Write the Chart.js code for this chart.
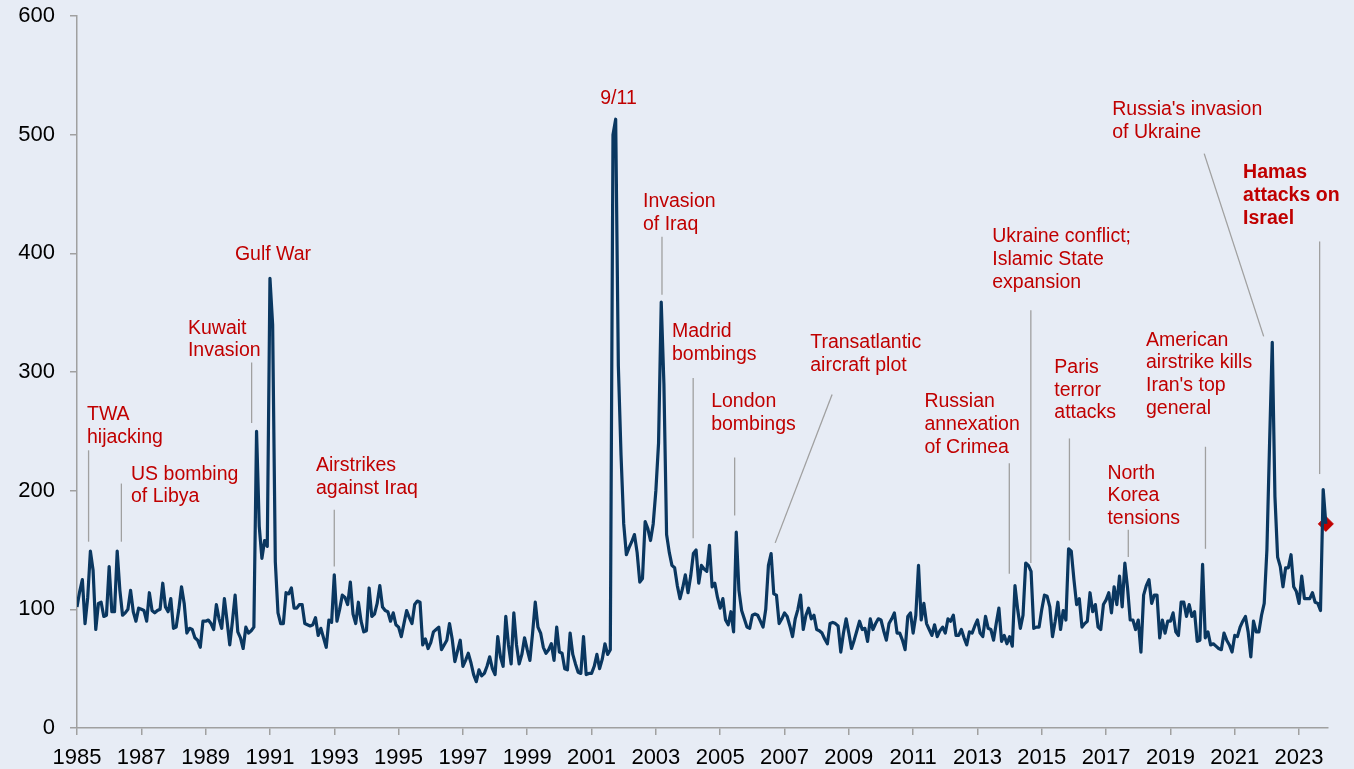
<!DOCTYPE html>
<html>
<head>
<meta charset="utf-8">
<title>Geopolitical risk index</title>
<script src="https://cdn.jsdelivr.net/npm/chart.js@4.4.0/dist/chart.umd.min.js"></script>
<style>
  html, body { margin: 0; padding: 0; background: #e7ecf5; }
  #wrap { width: 1354px; height: 769px; }
  canvas { display: block; background: #e7ecf5; }
</style>
</head>
<body>
<div id="wrap"><canvas id="gpr" width="1354" height="769"></canvas></div>
<script>
// monthly index values, Jan 1985 onwards
const startYear = 1985;

const gpr1985to1994 = [
  102, 115, 125, 88, 110, 149, 133, 83, 105, 106, 94, 95,     // 1985
  136, 98, 98, 149, 116, 95, 97, 100, 116, 98, 90, 101,       // 1986
  100, 99, 90, 114, 99, 97, 99, 100, 122, 102, 98, 109,       // 1987
  84, 85, 100, 119, 105, 80, 84, 83, 76, 74, 68, 90,          // 1988
  90, 91, 88, 83, 104, 92, 84, 109, 90, 70, 90, 112,          // 1989
  81, 76, 67, 85, 80, 82, 85, 250, 170, 143, 158, 153,        // 1990
  379, 340, 140, 97, 88, 88, 114, 113, 118, 101, 101, 104,    // 1991
  104, 88, 87, 86, 87, 93, 78, 84, 76, 68, 91, 89,            // 1992
  129, 90, 100, 112, 110, 104, 123, 96, 88, 106, 90, 81,      // 1993
  82, 118, 94, 96, 105, 120, 102, 99, 98, 90, 97, 87          // 1994
];

const gpr1995to2004 = [
  85, 77, 88, 99, 93, 88, 104, 107, 106, 70, 75, 67,          // 1995
  72, 81, 83, 85, 66, 70, 74, 88, 75, 56, 65, 74,             // 1996
  52, 57, 63, 55, 45, 39, 49, 44, 46, 52, 60, 50,             // 1997
  45, 77, 60, 52, 94, 70, 54, 97, 70, 54, 62, 76,             // 1998
  66, 57, 80, 106, 85, 80, 68, 63, 66, 71, 57, 85,            // 1999
  64, 63, 50, 49, 80, 62, 54, 47, 46, 77, 45, 46,             // 2000
  46, 52, 62, 50, 58, 71, 62, 66, 500, 513, 305, 230,         // 2001
  172, 146, 152, 157, 163, 148, 123, 126, 174, 168, 158, 172, // 2002
  200, 240, 359, 290, 163, 148, 137, 135, 120, 109, 118, 129, // 2003
  114, 128, 147, 150, 122, 137, 134, 132, 154, 119, 122, 110  // 2004
];

const gpr2005to2014 = [
  101, 109, 91, 87, 98, 81, 165, 116, 99, 92, 85, 84,         // 2005
  95, 96, 95, 90, 85, 100, 137, 147, 113, 112, 88, 92,        // 2006
  97, 94, 86, 77, 92, 100, 112, 83, 95, 101, 92, 95,          // 2007
  83, 82, 80, 75, 71, 88, 89, 88, 86, 64, 80, 92,             // 2008
  80, 67, 74, 82, 90, 83, 84, 73, 92, 83, 88, 92,             // 2009
  91, 82, 74, 88, 92, 97, 80, 80, 74, 66, 94, 97,             // 2010
  80, 95, 137, 91, 105, 88, 83, 78, 87, 77, 82, 85,           // 2011
  80, 92, 90, 95, 78, 78, 83, 76, 70, 81, 80, 86,             // 2012
  91, 80, 77, 94, 84, 83, 74, 88, 101, 73, 78, 71,            // 2013
  77, 69, 120, 100, 84, 95, 139, 137, 132, 84, 85, 85         // 2014
];

const gpr2015to2023 = [
  100, 112, 111, 102, 77, 90, 106, 83, 99, 91, 151, 149,      // 2015
  125, 104, 109, 85, 88, 90, 114, 98, 104, 85, 83, 104,       // 2016
  108, 114, 97, 119, 104, 128, 102, 139, 118, 91, 91, 83,     // 2017
  91, 64, 112, 120, 125, 105, 112, 112, 76, 91, 80, 90,       // 2018
  90, 97, 81, 78, 106, 106, 94, 104, 94, 98, 73, 74,          // 2019
  138, 76, 81, 70, 71, 69, 67, 66, 80, 74, 70, 64,            // 2020
  78, 77, 85, 90, 94, 81, 60, 90, 81, 81, 95, 105,            // 2021
  150, 240, 325, 195, 144, 136, 119, 135, 135, 146, 119, 115, // 2022
  105, 128, 109, 109, 109, 114, 106, 105, 99, 201, 172        // 2023 (to Nov)
];

const xTickYears = [1985, 1987, 1989, 1991, 1993, 1995, 1997, 1999, 2001, 2003,
                    2005, 2007, 2009, 2011, 2013, 2015, 2017, 2019, 2021, 2023];
const yTickValues = [0, 100, 200, 300, 400, 500, 600];

// event labels, anchored in data space (year, index value)
const events = [
  { lines: ["TWA", "hijacking"], x: 1985.31, y: 265 },
  { lines: ["US bombing", "of Libya"], x: 1986.68, y: 215 },
  { lines: ["Kuwait", "Invasion"], x: 1988.45, y: 338 },
  { lines: ["Gulf War"], x: 1989.91, y: 400 },
  { lines: ["Airstrikes", "against Iraq"], x: 1992.43, y: 222 },
  { lines: ["9/11"], x: 2001.27, y: 532 },
  { lines: ["Invasion", "of Iraq"], x: 2002.6, y: 445 },
  { lines: ["Madrid", "bombings"], x: 2003.5, y: 335 },
  { lines: ["London", "bombings"], x: 2004.72, y: 276 },
  { lines: ["Transatlantic", "aircraft plot"], x: 2007.8, y: 326 },
  { lines: ["Russian", "annexation", "of Crimea"], x: 2011.35, y: 276 },
  { lines: ["Ukraine conflict;", "Islamic State", "expansion"], x: 2013.46, y: 415 },
  { lines: ["Paris", "terror", "attacks"], x: 2015.39, y: 305 },
  { lines: ["North", "Korea", "tensions"], x: 2017.04, y: 216 },
  { lines: ["American", "airstrike kills", "Iran's top", "general"], x: 2018.24, y: 328 },
  { lines: ["Russia's invasion", "of Ukraine"], x: 2017.19, y: 522 },
  { lines: ["Hamas", "attacks on", "Israel"], x: 2021.26, y: 469, bold: true }
];

const leaders = [
  [1985.36, 234, 1985.36, 157],
  [1986.38, 206, 1986.38, 157],
  [1990.43, 308, 1990.43, 257],
  [1993.0, 184, 1993.0, 136],
  [2003.19, 414, 2003.19, 365],
  [2004.16, 295, 2004.16, 160],
  [2005.45, 228, 2005.45, 179],
  [2008.48, 281, 2006.71, 156],
  [2013.99, 223, 2013.99, 130],
  [2014.66, 352, 2014.66, 139],
  [2015.86, 244, 2015.86, 158],
  [2017.69, 167, 2017.69, 144],
  [2020.09, 237, 2020.09, 151],
  [2020.05, 484, 2021.9, 330],
  [2023.64, 410, 2023.64, 214]
];

const FONT = 'Arial, "Liberation Sans", sans-serif';

const values = [].concat(gpr1985to1994, gpr1995to2004, gpr2005to2014, gpr2015to2023);
const points = values.map((v, i) => ({ x: startYear + i / 12, y: v }));
const latest = points[points.length - 1];

// draws the red event labels and their grey pointer lines
const eventLabels = {
  id: "eventLabels",
  afterDatasetsDraw(chart) {
    const { ctx, scales } = chart;
    const xs = scales.x, ys = scales.y;
    ctx.save();
    ctx.strokeStyle = "#a0a0a0";
    ctx.lineWidth = 1.3;
    leaders.forEach(l => {
      ctx.beginPath();
      ctx.moveTo(xs.getPixelForValue(l[0]), ys.getPixelForValue(l[1]));
      ctx.lineTo(xs.getPixelForValue(l[2]), ys.getPixelForValue(l[3]));
      ctx.stroke();
    });
    ctx.fillStyle = "#c00000";
    ctx.textAlign = "left";
    ctx.textBaseline = "middle";
    events.forEach(e => {
      ctx.font = (e.bold ? "bold " : "") + "19.5px " + FONT;
      const px = xs.getPixelForValue(e.x);
      const py = ys.getPixelForValue(e.y) + 1.5;
      e.lines.forEach((t, i) => ctx.fillText(t, px, py + i * 22.7));
    });
    ctx.restore();
  }
};

new Chart(document.getElementById("gpr"), {
  type: "line",
  data: {
    datasets: [
      {
        data: points,
        borderColor: "#0a3760",
        borderWidth: 3.2,
        borderJoinStyle: "round",
        pointRadius: 0,
        tension: 0
      },
      {
        data: [latest],
        showLine: false,
        clip: false,
        pointStyle: "rectRot",
        pointRadius: 7.5,
        pointBackgroundColor: "#c00000",
        pointBorderColor: "#c00000"
      }
    ]
  },
  options: {
    responsive: false,
    animation: false,
    layout: { padding: { top: 16, right: 26, bottom: 0, left: 0 } },
    plugins: {
      legend: { display: false },
      tooltip: { enabled: false }
    },
    scales: {
      x: {
        type: "linear",
        min: 1985,
        max: 2023.9,
        afterBuildTicks: s => { s.ticks = xTickYears.map(v => ({ value: v })); },
        afterFit: s => { s.paddingLeft = 0; s.paddingRight = 0; s.height = 41; },
        ticks: {
          callback: v => String(v),
          color: "#000",
          font: { size: 22, family: FONT },
          padding: 10,
          maxRotation: 0,
          autoSkip: false
        },
        grid: { drawOnChartArea: false, tickLength: 7, color: "#a0a0a0", lineWidth: 1.5 },
        border: { color: "#a0a0a0", width: 1.5 }
      },
      y: {
        min: 0,
        max: 600,
        afterBuildTicks: s => { s.ticks = yTickValues.map(v => ({ value: v })); },
        afterFit: s => { s.width = 77; s.paddingTop = 0; s.paddingBottom = 0; },
        ticks: {
          callback: v => String(v),
          color: "#000",
          font: { size: 22, family: FONT },
          padding: 15
        },
        grid: { drawOnChartArea: false, tickLength: 7, color: "#a0a0a0", lineWidth: 1.5 },
        border: { color: "#a0a0a0", width: 1.5 }
      }
    }
  },
  plugins: [eventLabels]
});
</script>
</body>
</html>
